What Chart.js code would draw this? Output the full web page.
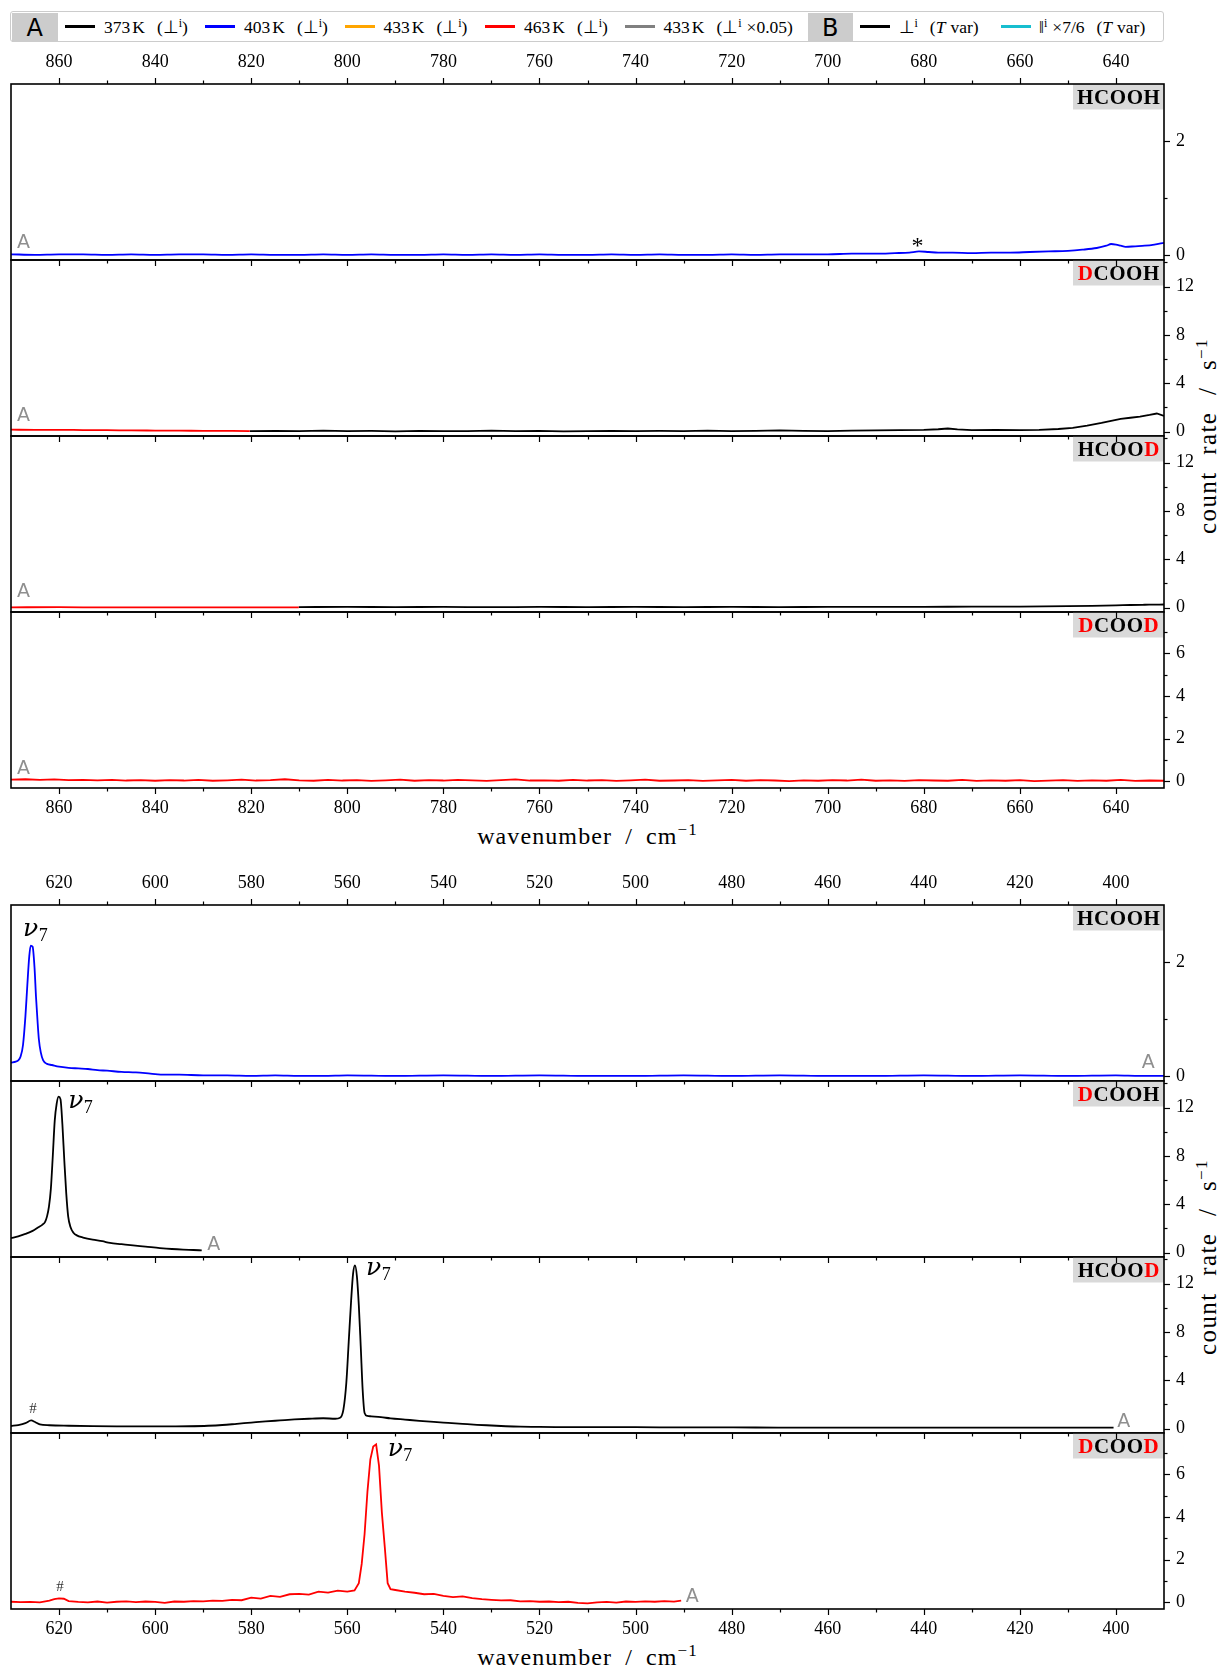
<!DOCTYPE html>
<html><head><meta charset="utf-8">
<script src="https://cdn.jsdelivr.net/npm/chart.js@4.4.1/dist/chart.umd.min.js"></script>
<style>
html,body{margin:0;padding:0;background:#fff;}
body{position:relative;width:1220px;height:1671px;overflow:hidden;font-family:'Liberation Serif',serif;color:#000;}
#legend{position:absolute;left:10px;top:11px;width:1152px;height:29px;border:1.5px solid #cccccc;border-radius:3px;background:#fff;}
.cell{position:absolute;top:12.5px;height:29.5px;background:#cccccc;font:24px 'DejaVu Sans',sans-serif;text-align:center;line-height:30px;}
.sw{position:absolute;top:25px;width:30px;height:3px;}
.lt{position:absolute;top:17px;font-size:17.5px;line-height:20px;white-space:nowrap;}
.lt sup{font-size:12px;vertical-align:0;position:relative;top:-6px;line-height:0;}
.gap{display:inline-block;width:12px;}
.sg{display:inline-block;width:5px;}
.ts{display:inline-block;width:2px;}
.xt{position:absolute;left:587.5px;transform:translateX(-50%);font-size:24px;line-height:24px;white-space:nowrap;letter-spacing:1.1px;word-spacing:6px;}
.yt{position:absolute;left:1207px;transform:translate(-50%,-50%) rotate(-90deg);font-size:25px;line-height:25px;white-space:nowrap;letter-spacing:1.4px;word-spacing:9px;}
.xt sup,.yt sup{font-size:17px;line-height:0;position:relative;top:-9px;vertical-align:0;}
canvas{position:absolute;left:0;}
</style></head>
<body>
<div id="legend"></div>
<div class="cell" style="left:11.5px;width:46.5px;">A</div>
<div class="sw" style="left:65px;background:#000000;"></div>
<div class="lt" style="left:104px;">373<span class="ts"></span>K<span class="gap"></span>(⊥<sup>i</sup>)</div>
<div class="sw" style="left:204.5px;background:#0000ff;"></div>
<div class="lt" style="left:244px;">403<span class="ts"></span>K<span class="gap"></span>(⊥<sup>i</sup>)</div>
<div class="sw" style="left:345px;background:#ffa500;"></div>
<div class="lt" style="left:383.5px;">433<span class="ts"></span>K<span class="gap"></span>(⊥<sup>i</sup>)</div>
<div class="sw" style="left:484.5px;background:#ff0000;"></div>
<div class="lt" style="left:524px;">463<span class="ts"></span>K<span class="gap"></span>(⊥<sup>i</sup>)</div>
<div class="sw" style="left:624.5px;background:#808080;"></div>
<div class="lt" style="left:663.5px;">433<span class="ts"></span>K<span class="gap"></span>(⊥<sup>i</sup><span class="sg"></span>×0.05)</div>
<div class="cell" style="left:807.5px;width:45.5px;">B</div>
<div class="sw" style="left:860px;background:#000000;"></div>
<div class="lt" style="left:898.5px;">⊥<sup>i</sup><span class="gap"></span>(<i>T</i><span class="sg"></span>var)</div>
<div class="sw" style="left:1000.5px;background:#17becf;"></div>
<div class="lt" style="left:1039px;">‖<sup>i</sup><span class="sg"></span>×7/6<span class="gap"></span>(<i>T</i><span class="sg"></span>var)</div>

<div class="xt" style="top:824px;">wavenumber / cm<sup>−1</sup></div>
<div class="xt" style="top:1645px;">wavenumber / cm<sup>−1</sup></div>
<div class="yt" style="top:436px;">count rate / s<sup>−1</sup></div>
<div class="yt" style="top:1257px;">count rate / s<sup>−1</sup></div>

<script>
// ---------------- axis ranges and tick labels ----------------
const topRange = [630, 870];
const bottomRange = [390, 630];
const topXTicks = [860, 840, 820, 800, 780, 760, 740, 720, 700, 680, 660, 640];
const bottomXTicks = [620, 600, 580, 560, 540, 520, 500, 480, 460, 440, 420, 400];
const yRangeHCOOH = [-0.08, 3.0];
const yRangeDCOOH = [-0.36, 14.2];
const yRangeHCOOD = [-0.36, 14.2];
const yRangeDCOOD = [-0.31, 7.93];
const yTicksHCOOH = [0, 2];
const yMinorHCOOH = [1];
const yTicksBig = [0, 4, 8, 12];
const yMinorBig = [2, 6, 10, 14];
const yTicksDCOOD = [0, 2, 4, 6];
const yMinorDCOOD = [1, 3, 5, 7];

// ---------------- top half (870 - 630 cm-1) ----------------
const topHCOOH403X = [870,865,860,855,850,845,840,835,830,825,820,815,810,805,800,795,790,785,780,775,770,765,760,755,750,745,740,735,730,725,720,715,710,705,700,695,690,686,683,681,679,677,674,670,666,662,658,654,650,647,644,642,641,640,639,638,636,634,632,630];
const topHCOOH403Y = [0.02,0.01,0.02,0.02,0.01,0.02,0.01,0.02,0.02,0.01,0.02,0.01,0.01,0.02,0.01,0.02,0.01,0.01,0.02,0.01,0.02,0.01,0.02,0.01,0.01,0.02,0.01,0.02,0.01,0.01,0.02,0.01,0.02,0.02,0.02,0.03,0.03,0.04,0.05,0.07,0.06,0.05,0.05,0.04,0.05,0.05,0.06,0.07,0.08,0.1,0.13,0.17,0.2,0.19,0.17,0.15,0.16,0.17,0.19,0.22];

const topDCOOH463X = [870,865,860,855,850,845,840,835,830,825,820.3];
const topDCOOH463Y = [0.16,0.15,0.15,0.13,0.12,0.1,0.09,0.08,0.07,0.06,0.05];
const topDCOOH373X = [820.3,815,810,805,800,795,790,785,780,775,770,765,760,755,750,745,740,735,730,725,720,715,710,705,700,695,690,685,680,677,675,673,670,665,660,656,652,649,646,643,641,639,637,635,633,631.5,630];
const topDCOOH373Y = [0.05,0.07,0.04,0.08,0.05,0.06,0.03,0.07,0.05,0.04,0.08,0.05,0.06,0.02,0.05,0.07,0.04,0.06,0.05,0.08,0.04,0.06,0.1,0.07,0.05,0.09,0.1,0.12,0.14,0.2,0.26,0.18,0.12,0.15,0.12,0.15,0.22,0.32,0.5,0.72,0.9,1.05,1.15,1.25,1.38,1.5,1.3];

const topHCOOD463X = [870,860,850,840,830,820,810.1];
const topHCOOD463Y = [0.03,0.04,0.02,0.03,0.02,0.03,0.02];
const topHCOOD373X = [810.1,800,790,780,770,760,750,740,730,720,710,700,690,680,670,660,650,645,640,637,634,632,630];
const topHCOOD373Y = [0.05,0.06,0.05,0.06,0.04,0.06,0.05,0.06,0.05,0.06,0.05,0.06,0.06,0.07,0.08,0.09,0.12,0.15,0.19,0.22,0.24,0.25,0.26];

const topDCOOD463X = [870,867,864,861,858,855,852,849,846,843,840,837,834,831,828,825,822,819,816,813,810,807,804,801,798,795,792,789,786,783,780,777,774,771,768,765,762,759,756,753,750,747,744,741,738,735,732,729,726,723,720,717,714,711,708,705,702,699,696,693,690,687,684,681,678,675,672,669,666,663,660,657,654,651,648,645,642,639,636,633,630];
const topDCOOD463Y = [0.08,0.1,0.07,0.09,0.06,0.07,0.05,0.07,0.04,0.06,
  0.03,0.06,0.04,0.07,0.03,0.05,0.08,0.04,0.06,0.1,
  0.05,0.03,0.07,0.04,0.06,0.02,0.05,0.08,0.03,0.06,
  0.04,0.07,0.05,0.02,0.06,0.09,0.04,0.05,0.03,0.07,
  0.04,0.06,0.02,0.05,0.08,0.03,0.04,0.06,0.02,0.05,
  0.07,0.03,0.06,0.04,0.01,0.05,0.03,0.06,0.04,0.08,
  0.03,0.05,0.02,0.06,0.04,0.03,0.07,0.02,0.05,0.03,
  0.06,0.01,0.04,0.06,0.02,0.05,0.03,0.07,0.02,0.04,
  0.03];

// ---------------- bottom half (630 - 390 cm-1) ----------------
const botHCOOH403X = [630,629,628.5,628,627.5,627,626.6,626.2,625.9,625.5,625.1,624.8,624.5,624.2,623.8,623.3,622.5,621.5,620,618,616,614,612,610,607,604,601,598,595,590,585,580,575,570,565,560,550,540,530,520,510,500,490,480,470,460,450,440,430,420,410,400,395,390];
const botHCOOH403Y = [0.24,0.26,0.28,0.35,0.55,1.05,1.6,2.1,2.29,2.27,1.9,1.4,1.0,0.65,0.42,0.28,0.22,0.2,0.17,0.15,0.14,0.13,0.11,0.1,0.08,0.07,0.05,0.03,0.03,0.02,0.02,0.01,0.02,0.01,0.01,0.02,0.01,0.02,0.01,0.02,0.01,0.01,0.02,0.01,0.02,0.01,0.01,0.02,0.01,0.02,0.01,0.02,0.01,0.01];

const botDCOOH373X = [630,628.5,627,625.5,624.3,623.5,622.9,622.5,622.1,621.7,621.3,620.9,620.5,620.1,619.7,619.3,618.9,618.5,618.1,617.6,617,616.3,615,613,611,609.4,607,604.6,602,599,596.5,594.2,592,590.3];
const botDCOOH373Y = [1.2,1.35,1.55,1.8,2.1,2.3,2.55,3.0,3.8,5.3,8.0,10.9,12.3,12.9,12.7,10.6,7.6,4.9,3.0,2.1,1.65,1.43,1.25,1.07,0.95,0.8,0.7,0.6,0.5,0.38,0.3,0.25,0.22,0.19];

const botHCOOD373X = [630,628.5,627,625.8,625,624,622,618,613,608,603,598,593,589,586,583,580,577,574,571,568,565,562.5,561.5,560.8,560.2,559.7,559.2,558.8,558.4,558,557.6,557.2,556.8,556.4,555.8,555,553,551,548,545,542,539,536,533,530,527,524,520,515,510,500,490,480,470,460,450,440,430,420,410,400.5];
const botHCOOD373Y = [0.22,0.3,0.45,0.68,0.55,0.35,0.28,0.24,0.21,0.19,0.18,0.18,0.2,0.24,0.3,0.4,0.5,0.6,0.68,0.76,0.82,0.86,0.82,0.9,1.6,3.8,7.2,10.6,12.8,13.5,12.6,10.2,6.8,3.2,1.3,1.05,1.02,0.95,0.85,0.75,0.65,0.56,0.48,0.4,0.32,0.26,0.2,0.16,0.14,0.13,0.12,0.12,0.1,0.1,0.09,0.09,0.08,0.08,0.08,0.08,0.08,0.08];

const botDCOOD463X = [630,628,626,624,622,621,620,619,618,616,614,612,610,608,606,604,602,600,598,596,594,592,590,588,586,584,582,580,578,576,574,572,570,568,566,564,562,560,558.5,557.6,557,556.4,555.8,555.2,554.6,554,553.4,552.8,552.2,551.6,551,550,548,546,544,542,540,538,536,534,532,530,528,526,524,522,520,518,516,514,512,510,508,506,504,502,500,498,496,494,492,490.5];
const botDCOOD463Y = [0.03,0.01,0.02,0.0,0.08,0.15,0.19,0.17,0.06,0.02,0.0,0.04,-0.01,0.03,0.05,0.01,0.04,0.02,-0.02,0.04,0.03,0.06,0.05,0.08,0.07,0.12,0.1,0.22,0.18,0.3,0.26,0.38,0.4,0.36,0.5,0.46,0.55,0.5,0.56,0.9,1.8,3.2,5.2,6.7,7.3,7.4,6.4,4.2,2.6,0.9,0.62,0.58,0.5,0.45,0.38,0.4,0.3,0.25,0.28,0.2,0.15,0.12,0.09,0.1,0.05,0.06,0.03,0.04,0.01,0.03,-0.02,-0.05,0.0,0.02,-0.01,0.04,0.02,0.05,0.03,0.06,0.04,0.08];

// ---------------- colours ----------------
const C373 = '#000000', C403 = '#0000ff', C463 = '#ff0000';

function pts(xs, ys) { return xs.map((x, i) => ({x: x, y: ys[i]})); }
function ds(xs, ys, color, smooth) {
  const d = {data: pts(xs, ys), borderColor: color, borderWidth: 1.8, pointRadius: 0, fill: false,
          xAxisID: 'x', yAxisID: 'y', tension: 0};
  if (smooth !== false) d.cubicInterpolationMode = 'monotone';
  return d;
}

const PANEL_H = 176;
const halves = [
  {top: 84, xr: topRange, xticks: topXTicks, panels: [
    {name: 'HCOOH', red: [], yr: yRangeHCOOH, yt: yTicksHCOOH, ym: yMinorHCOOH,
     sets: [ds(topHCOOH403X, topHCOOH403Y, C403)],
     notes: [{t: 'A', x: 867.4, y: 0.22}, {t: '*', x: 681.3, y: 0.05}]},
    {name: 'DCOOH', red: [0], yr: yRangeDCOOH, yt: yTicksBig, ym: yMinorBig,
     sets: [ds(topDCOOH463X, topDCOOH463Y, C463), ds(topDCOOH373X, topDCOOH373Y, C373, false)],
     notes: [{t: 'A', x: 867.4, y: 1.29}]},
    {name: 'HCOOD', red: [4], yr: yRangeHCOOD, yt: yTicksBig, ym: yMinorBig,
     sets: [ds(topHCOOD463X, topHCOOD463Y, C463), ds(topHCOOD373X, topHCOOD373Y, C373)],
     notes: [{t: 'A', x: 867.4, y: 1.29}]},
    {name: 'DCOOD', red: [0, 4], yr: yRangeDCOOD, yt: yTicksDCOOD, ym: yMinorDCOOD,
     sets: [ds(topDCOOD463X, topDCOOD463Y, C463, false)],
     notes: [{t: 'A', x: 867.4, y: 0.58}]}
  ]},
  {top: 905, xr: bottomRange, xticks: bottomXTicks, panels: [
    {name: 'HCOOH', red: [], yr: yRangeHCOOH, yt: yTicksHCOOH, ym: yMinorHCOOH,
     sets: [ds(botHCOOH403X, botHCOOH403Y, C403)],
     notes: [{t: 'nu', x: 627.5, y: 2.46}, {t: 'A', x: 393.3, y: 0.23}]},
    {name: 'DCOOH', red: [0], yr: yRangeDCOOH, yt: yTicksBig, ym: yMinorBig,
     sets: [ds(botDCOOH373X, botDCOOH373Y, C373)],
     notes: [{t: 'nu', x: 618.1, y: 11.96}, {t: 'A', x: 587.8, y: 0.59}]},
    {name: 'HCOOD', red: [4], yr: yRangeHCOOD, yt: yTicksBig, ym: yMinorBig,
     sets: [ds(botHCOOD373X, botHCOOD373Y, C373)],
     notes: [{t: 'nu', x: 556.1, y: 12.67}, {t: '#', x: 625.4, y: 1.63}, {t: 'A', x: 398.4, y: 0.57}]},
    {name: 'DCOOD', red: [0, 4], yr: yRangeDCOOD, yt: yTicksDCOOD, ym: yMinorDCOOD,
     sets: [ds(botDCOOD463X, botDCOOD463Y, C463, false)],
     notes: [{t: 'nu', x: 551.6, y: 6.85}, {t: '#', x: 619.8, y: 0.70}, {t: 'A', x: 488.2, y: 0.23}]}
  ]}
];

const tickFont = {family: 'Liberation Serif', size: 18};

function xScale(xr, ticks, position, display, pad) {
  return {
    type: 'linear', reverse: true, min: xr[0], max: xr[1], position: position, display: display,
    grid: {display: false, drawTicks: false}, border: {display: false},
    ticks: {autoSkip: false, maxRotation: 0, minRotation: 0, padding: pad, color: '#000', font: tickFont},
    afterBuildTicks: s => { s.ticks = ticks.map(v => ({value: v})); },
    afterFit: s => { s.height = display ? 40 : 0; s.width = display ? s.width : 0; s.paddingLeft = 0; s.paddingRight = 0; }
  };
}

function drawNote(ctx, n, px, py) {
  ctx.save();
  if (n.t === 'A') {
    ctx.font = '19px "DejaVu Sans"'; ctx.fillStyle = '#8f8f8f';
    ctx.textAlign = 'center'; ctx.textBaseline = 'middle';
    ctx.fillText('A', px, py);
  } else if (n.t === 'nu') {
    ctx.fillStyle = '#000'; ctx.textAlign = 'left'; ctx.textBaseline = 'alphabetic';
    ctx.font = 'italic 25px "DejaVu Serif"';
    ctx.fillText('ν', px, py);
    const w = ctx.measureText('ν').width;
    ctx.font = '18px "Liberation Serif"';
    ctx.fillText('7', px + w + 0.5, py + 5);
  } else if (n.t === '#') {
    ctx.font = '15px "Liberation Serif"'; ctx.fillStyle = '#333';
    ctx.textAlign = 'center'; ctx.textBaseline = 'middle';
    ctx.fillText('#', px, py);
  } else if (n.t === '*') {
    ctx.font = '24px "Liberation Serif"'; ctx.fillStyle = '#000';
    ctx.textAlign = 'center'; ctx.textBaseline = 'alphabetic';
    ctx.fillText('*', px, py);
  }
  ctx.restore();
}

function drawName(ctx, a, name, red) {
  const w = 91, h = 25.5;
  ctx.save();
  ctx.fillStyle = '#d9d9d9';
  ctx.fillRect(a.right - w, a.top, w, h);
  ctx.font = 'bold 21px "Liberation Serif"';
  ctx.textBaseline = 'alphabetic'; ctx.textAlign = 'left';
  const sp = 0.6;
  const chars = name.split('');
  const ws = chars.map(c => ctx.measureText(c).width);
  const total = ws.reduce((s, v) => s + v, 0) + sp * (chars.length - 1);
  let x = a.right - w / 2 - total / 2;
  chars.forEach((c, i) => {
    ctx.fillStyle = red.includes(i) ? '#ff0000' : '#000000';
    ctx.fillText(c, x, a.top + 19.8);
    x += ws[i] + sp;
  });
  ctx.restore();
}

function makeDeco(P, first, last) {
  return {
    id: 'deco',
    afterDatasetsDraw(chart) {
      const ctx = chart.ctx, a = chart.chartArea;
      const xs = chart.scales.x, ys = chart.scales.y;
      drawName(ctx, a, P.name, P.red);
      P.notes.forEach(n => drawNote(ctx, n, xs.getPixelForValue(n.x), ys.getPixelForValue(n.y)));
    },
    afterDraw(chart) {
      const ctx = chart.ctx, a = chart.chartArea;
      const xs = chart.scales.x, ys = chart.scales.y;
      ctx.save();
      ctx.strokeStyle = '#000'; ctx.lineWidth = 1.2;
      const line = (x1, y1, x2, y2) => { ctx.beginPath(); ctx.moveTo(x1, y1); ctx.lineTo(x2, y2); ctx.stroke(); };
      for (let v = Math.ceil(xs.min / 10) * 10; v <= xs.max; v += 10) {
        if (v <= xs.min || v >= xs.max) continue;
        const px = Math.round(xs.getPixelForValue(v)) + 0.5;
        const len = (v % 20 === 0) ? 6 : 3.5;
        if (first) line(px, a.top, px, a.top - len);
        else line(px, a.top, px, a.top + len);
        if (last) line(px, a.bottom, px, a.bottom + len);
      }
      P.yt.forEach(v => { const py = Math.round(ys.getPixelForValue(v)) + 0.5; line(a.right, py, a.right + 6, py); });
      P.ym.forEach(v => {
        if (v <= ys.min || v >= ys.max) return;
        const py = Math.round(ys.getPixelForValue(v)) + 0.5; line(a.right, py, a.right + 3.5, py);
      });
      ctx.lineWidth = 1.6;
      ctx.strokeRect(a.left, a.top, a.right - a.left, a.bottom - a.top);
      ctx.restore();
    }
  };
}

halves.forEach(h => h.panels.forEach((P, i) => {
  const first = i === 0, last = i === h.panels.length - 1;
  const pTop = h.top + i * PANEL_H;
  const padTop = first ? 0 : 14, axTop = first ? 40 : 0;
  const padBot = last ? 0 : 14, axBot = last ? 40 : 0;
  const cvTop = pTop - padTop - axTop;
  const cvH = padTop + axTop + PANEL_H + padBot + axBot;
  const cv = document.createElement('canvas');
  cv.width = 1220; cv.height = cvH;
  cv.style.top = cvTop + 'px';
  cv.style.width = '1220px'; cv.style.height = cvH + 'px';
  document.body.appendChild(cv);

  const scales = {
    x: xScale(h.xr, h.xticks, 'bottom', last, 9.6),
    y: {
      type: 'linear', position: 'right', min: P.yr[0], max: P.yr[1],
      grid: {display: false, drawTicks: false}, border: {display: false},
      ticks: {padding: 12, color: '#000', font: tickFont, callback: v => String(v)},
      afterBuildTicks: s => { s.ticks = P.yt.map(v => ({value: v})); },
      afterFit: s => { s.width = 44; s.paddingTop = 0; s.paddingBottom = 0; }
    }
  };
  if (first) scales.xTop = xScale(h.xr, h.xticks, 'top', true, 11.3);

  new Chart(cv, {
    type: 'line',
    data: {datasets: P.sets},
    options: {
      responsive: false, animation: false, devicePixelRatio: 1,
      layout: {padding: {left: 11, right: 12, top: padTop, bottom: padBot}, autoPadding: false},
      plugins: {legend: {display: false}, tooltip: {enabled: false}},
      events: [],
      scales: scales
    },
    plugins: [makeDeco(P, first, last)]
  });
}));
</script>
</body></html>
